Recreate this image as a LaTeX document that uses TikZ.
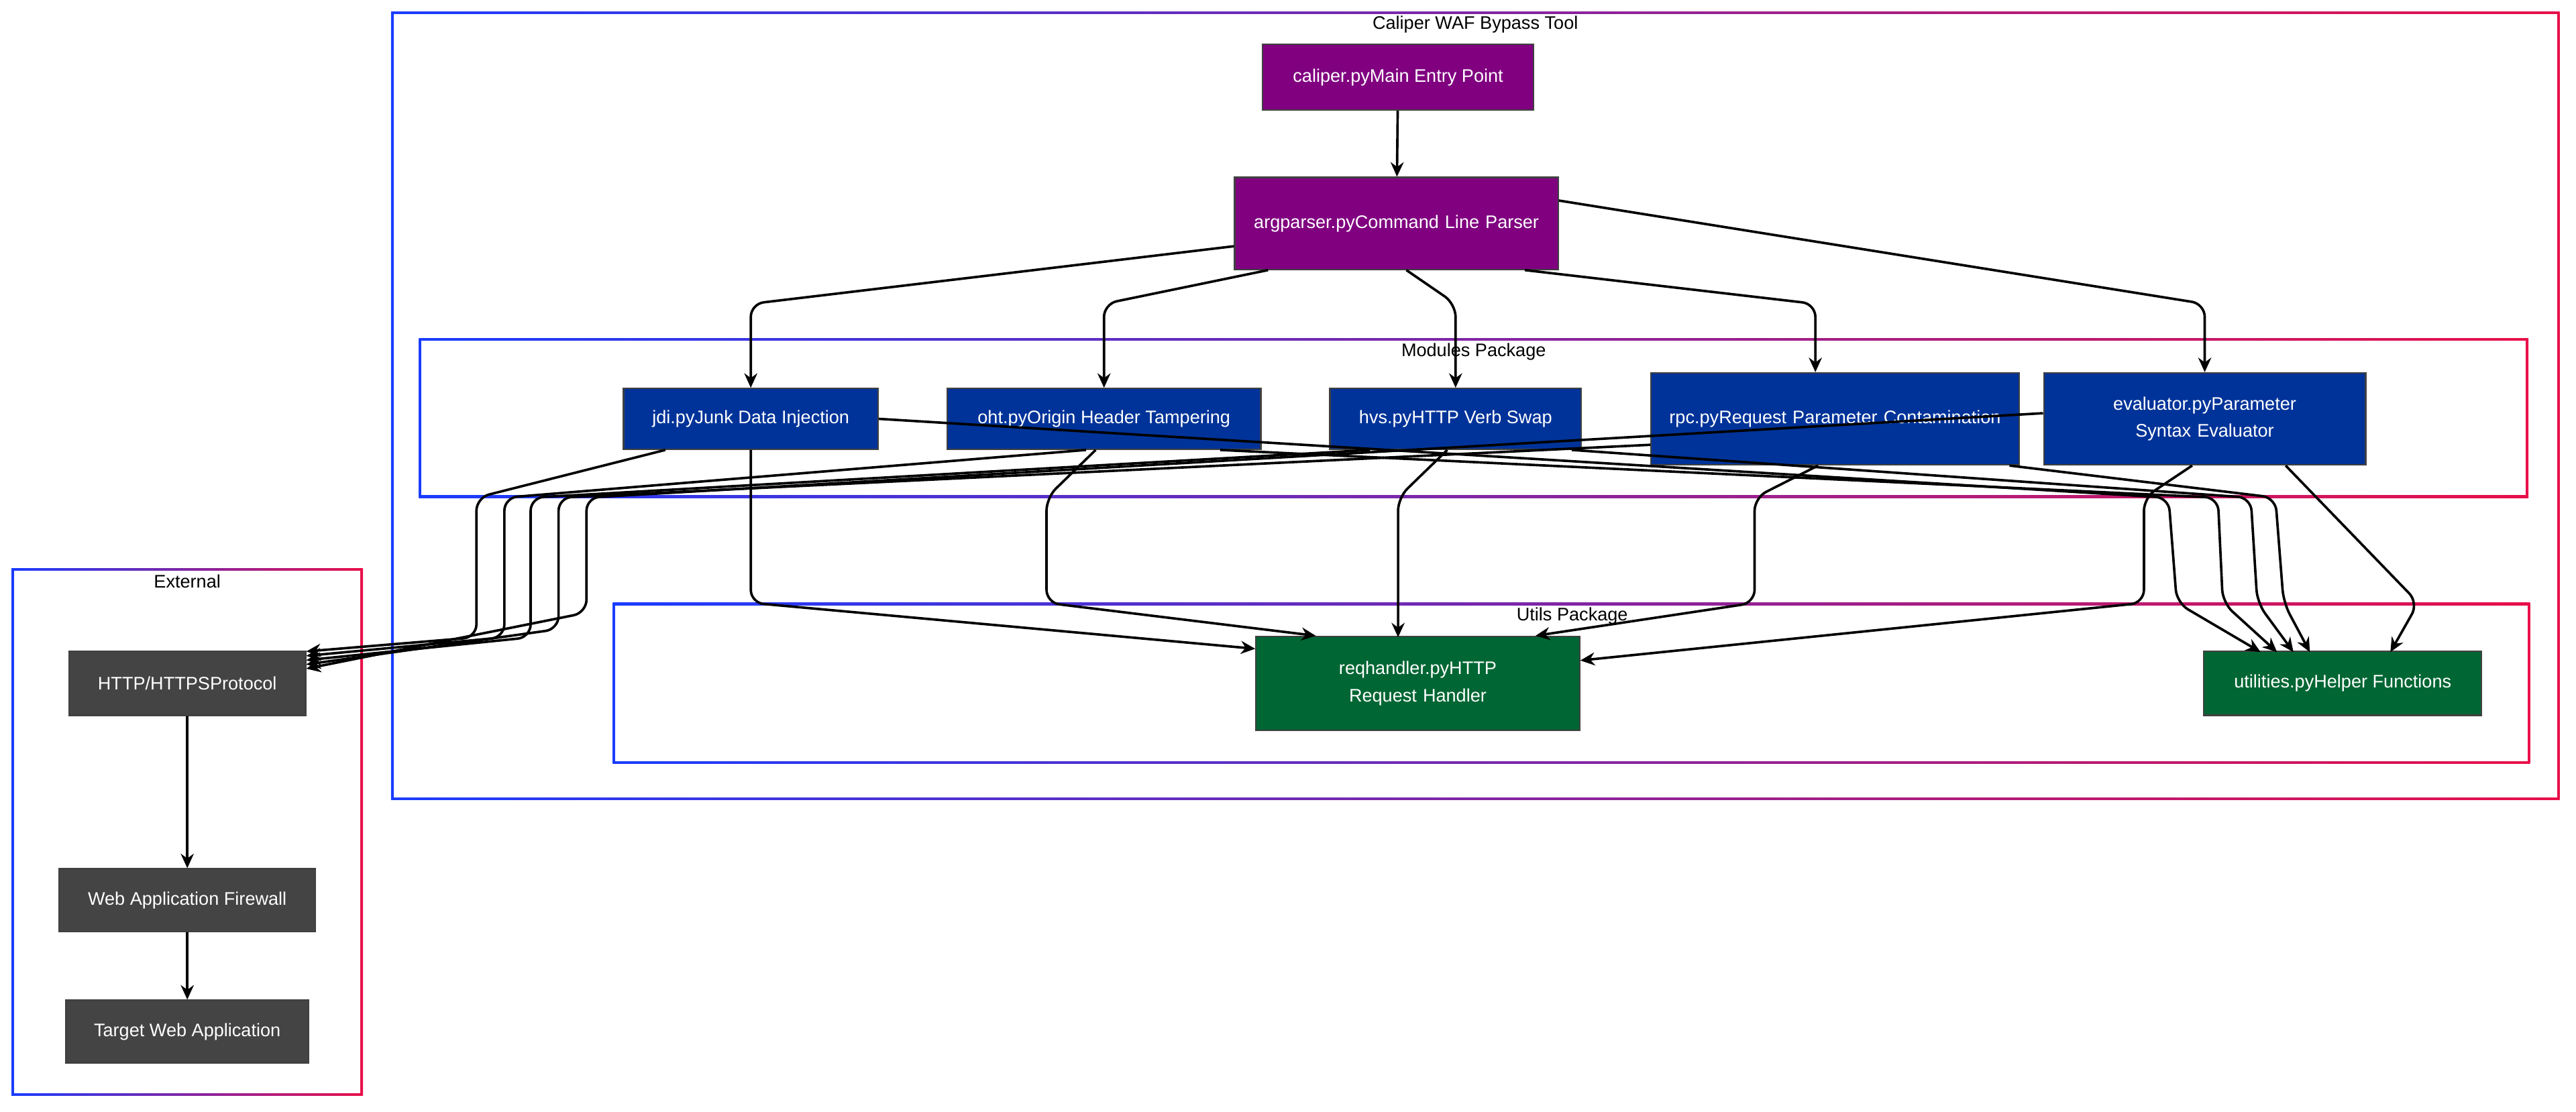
\documentclass[tikz,border=0pt]{standalone}
\usepackage{fontspec}
\setmainfont{Liberation Sans}
\usetikzlibrary{arrows.meta}
\definecolor{mainpurple}{HTML}{800080}
\definecolor{modblue}{HTML}{003399}
\definecolor{utilgreen}{HTML}{006633}
\definecolor{extgrey}{HTML}{444444}
\definecolor{edgeblue}{HTML}{1A3CFF}
\definecolor{edgered}{HTML}{E8104A}
\tikzstyle{box}=[draw=black!75, line width=0.5pt, text=white, align=center, inner sep=1pt, font=\fontsize{6.3}{9.5}\selectfont]
\tikzstyle{main box}=[box, fill=mainpurple]
\tikzstyle{module box}=[box, fill=modblue]
\tikzstyle{util box}=[box, fill=utilgreen]
\tikzstyle{ext box}=[box, fill=extgrey]
\tikzstyle{flow}=[-{Stealth[length=5pt,width=4.5pt]}, line width=0.85pt, rounded corners=4.5pt]
\tikzstyle{cluster title}=[font=\fontsize{6.3}{8}\selectfont, inner sep=0pt]
% gradient frame: shaded outer rectangle, white inside
\newcommand{\clusterframe}[4]{%
  \shade[left color=edgeblue, right color=edgered] (#1) rectangle (#2);
  \fill[white] ($(#1)+(1.6,1.6)$) rectangle ($(#2)+(-1.6,-1.6)$);
  \node [cluster title] at (#3) {#4};}
\usetikzlibrary{calc}

\begin{document}
\begin{tikzpicture}[x=0.02cm, y=-0.02cm]
	\useasboundingbox (0,0) rectangle (1568,677);
	% clusters
	\clusterframe{238,7}{1558,487}{898,15}{Caliper WAF Bypass Tool}
	\clusterframe{255,206}{1539,303}{897,214}{Modules Package}
	\clusterframe{373,367}{1540,465}{957,375}{Utils Package}
	\clusterframe{7,346}{221,667}{114,354}{External}
	% nodes
	\node [style=main box, minimum width=3.3cm, minimum height=0.8cm] (caliper) at (851,47) {caliper.pyMain Entry Point};
	\node [style=main box, minimum width=3.94cm, minimum height=1.12cm, text width=3.6cm] (argparser) at (850,136) {argparser.pyCommand Line Parser};
	\node [style=module box, minimum width=3.1cm, minimum height=0.74cm] (jdi) at (457,255) {jdi.pyJunk Data Injection};
	\node [style=module box, minimum width=3.82cm, minimum height=0.74cm] (oht) at (672,255) {oht.pyOrigin Header Tampering};
	\node [style=module box, minimum width=3.06cm, minimum height=0.74cm] (hvs) at (886,255) {hvs.pyHTTP Verb Swap};
	\node [style=module box, minimum width=4.48cm, minimum height=1.12cm, text width=4.1cm] (rpc) at (1117,255) {rpc.pyRequest Parameter Contamination};
	\node [style=module box, minimum width=3.92cm, minimum height=1.12cm, text width=3.6cm] (evaluator) at (1342,255) {evaluator.pyParameter Syntax Evaluator};
	\node [style=util box, minimum width=3.94cm, minimum height=1.14cm, text width=3.6cm] (reqhandler) at (863,416) {reqhandler.pyHTTP Request Handler};
	\node [style=util box, minimum width=3.38cm, minimum height=0.78cm] (utilities) at (1426,416) {utilities.pyHelper Functions};
	\node [style=ext box, minimum width=2.88cm, minimum height=0.78cm] (http) at (114,416) {HTTP/HTTPSProtocol};
	\node [style=ext box, minimum width=3.12cm, minimum height=0.76cm] (waf) at (114,548) {Web Application Firewall};
	\node [style=ext box, minimum width=2.96cm, minimum height=0.76cm] (target) at (114,628) {Target Web Application};
	% edges
	\draw [style=flow] (caliper) -- (argparser);
	\draw [style=flow] (argparser.188) -- (457,185) -- (jdi.north);
	\draw [style=flow] (argparser.200) -- (672,185) -- (oht.north);
	\draw [style=flow] (argparser.282) -- (886,185) -- (hvs.north);
	\draw [style=flow] (argparser.340) -- (1105,185) -- (rpc.north -| 1105,0);
	\draw [style=flow] (argparser.8) -- (1342,185) -- (evaluator.north);
	% modules to http
	\draw [style=flow] (jdi.200) -- (290,303) -- (290,388) -- (http.15);
	\draw [style=flow] (oht.240) -- (307,303) -- (307,388) -- (http.13);
	\draw [style=flow] (hvs.200) -- (323,303) -- (323,388) -- (http.11);
	\draw [style=flow] (rpc.188) -- (340,303) -- (340,383) -- (http.9);
	\draw [style=flow] (evaluator.178) -- (357,303) -- (357,373) -- (http.7);
	% modules to reqhandler
	\draw [style=flow] (jdi.south) -- (457,367) -- (reqhandler.168);
	\draw [style=flow] (oht.255) -- (637,303) -- (637,367) -- (reqhandler.155);
	\draw [style=flow] (hvs.255) -- (851,303) -- (851,388);
	\draw [style=flow] (rpc.250) -- (1068,303) -- (1068,367) -- (reqhandler.22);
	\draw [style=flow] (evaluator.255) -- (1305,303) -- (1305,367) -- (reqhandler.8);
	% modules to utilities
	\draw [style=flow] (jdi.east) -- (1320,303) -- (1325,367) -- (1376,397);
	\draw [style=flow] (oht.345) -- (1350,303) -- (1353,367) -- (1386,397);
	\draw [style=flow] (hvs.345) -- (1370,303) -- (1374,367) -- (1396,397);
	\draw [style=flow] (rpc.345) -- (1385,303) -- (1390,367) -- (1406,397);
	\draw [style=flow] (evaluator.330) -- (1472,367) -- (1455,397);
	% external chain
	\draw [style=flow] (http) -- (waf);
	\draw [style=flow] (waf) -- (target);
\end{tikzpicture}
\end{document}
